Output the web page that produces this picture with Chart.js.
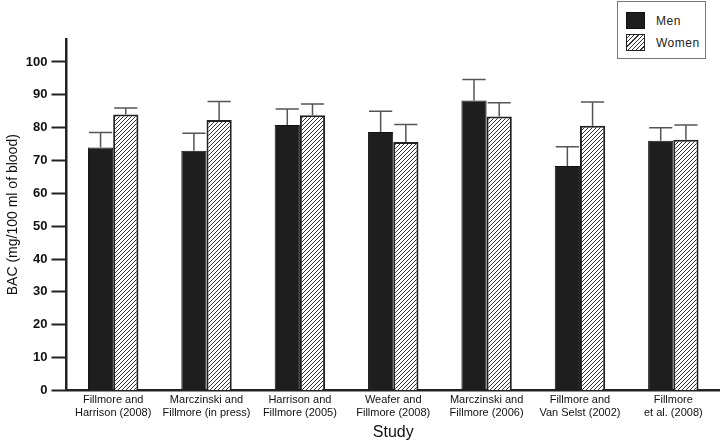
<!DOCTYPE html>
<html>
<head>
<meta charset="utf-8">
<script src="https://cdn.jsdelivr.net/npm/chart.js@4"></script>
<style>
  body { margin: 0; background: #fff; font-family: "Liberation Sans", Arial, sans-serif; overflow: hidden; }
  #wrap { position: relative; width: 720px; height: 440px; overflow: hidden; }
  #legend {
    position: absolute; left: 617px; top: 1px; width: 87px; height: 56px;
    border: 1px solid #777; background: #fff; font-size: 12px; color: #222; letter-spacing: 0.5px;
  }
  .item { position: absolute; left: 8px; display: flex; align-items: center; }
  .item span.sw { display: inline-block; width: 19px; height: 17px; box-sizing: border-box; margin-right: 11px; }
  .men { background: #1e1e1e; border: 1px solid #111; }
  .women { border: 1px solid #222; background: repeating-linear-gradient(-45deg, #fff 0 2px, #333 2px 3px); }
</style>
</head>
<body>
<div id="wrap">
  <canvas id="chart" width="720" height="440"></canvas>
  <div id="legend">
    <div class="item" style="top:10px"><span class="sw men"></span>Men</div>
    <div class="item" style="top:32px"><span class="sw women"></span>Women</div>
  </div>
</div>
<script>
// Study labels (two lines each)
const studies = [
    ['Fillmore and', 'Harrison (2008)'],
    ['Marczinski and', 'Fillmore (in press)'],
    ['Harrison and', 'Fillmore (2005)'],
    ['Weafer and', 'Fillmore (2008)'],
    ['Marczinski and', 'Fillmore (2006)'],
    ['Fillmore and', 'Van Selst (2002)'],
    ['Fillmore', 'et al. (2008)']
];

// Mean BAC values
const menBAC = [74, 73, 80.8, 78.7, 88.3, 68.3, 76];
const womenBAC = [84, 82.3, 83.8, 75.6, 83.4, 80.6, 76.3];

// Top of the error bars (mean + SE)
const menTop = [78.5, 78.3, 85.7, 85, 94.7, 74.2, 80];
const womenTop = [86, 88, 87.2, 81, 87.6, 87.8, 80.8];

const yTicks = [0, 10, 20, 30, 40, 50, 60, 70, 80, 90, 100];

function makeHatch() {
    const c = document.createElement('canvas');
    c.width = 4; c.height = 4;
    const g = c.getContext('2d');
    g.fillStyle = '#fff';
    g.fillRect(0, 0, 4, 4);
    g.strokeStyle = '#333';
    g.lineWidth = 1;
    g.beginPath();
    g.moveTo(-1, 5); g.lineTo(5, -1);
    g.moveTo(-1, 1); g.lineTo(1, -1);
    g.moveTo(3, 5); g.lineTo(5, 3);
    g.stroke();
    return g.createPattern(c, 'repeat');
}

const errorBars = {
    id: 'errorBars',
    afterDatasetsDraw(chart) {
        const ctx = chart.ctx;
        const y = chart.scales.y;
        const tops = [menTop, womenTop];
        ctx.save();
        ctx.strokeStyle = '#555';
        ctx.lineWidth = 1.5;
        chart.data.datasets.forEach((ds, di) => {
            const meta = chart.getDatasetMeta(di);
            meta.data.forEach((bar, i) => {
                const yt = y.getPixelForValue(tops[di][i]);
                const half = bar.width / 2 - 1;
                ctx.beginPath();
                ctx.moveTo(bar.x, bar.y);
                ctx.lineTo(bar.x, yt);
                ctx.moveTo(bar.x - half, yt);
                ctx.lineTo(bar.x + half, yt);
                ctx.stroke();
            });
        });
        ctx.restore();
    }
};

new Chart(document.getElementById('chart'), {
    type: 'bar',
    data: {
        labels: studies,
        datasets: [{
            label: 'Men',
            data: menBAC,
            backgroundColor: '#1e1e1e',
            borderColor: '#111',
            borderWidth: 1
        }, {
            label: 'Women',
            data: womenBAC,
            backgroundColor: makeHatch(),
            borderColor: '#222',
            borderWidth: 2
        }]
    },
    options: {
        responsive: false,
        animation: false,
        layout: { padding: { top: 39, right: -12, bottom: -2, left: 5 } },
        categoryPercentage: 0.54,
        barPercentage: 1,
        plugins: {
            legend: { display: false },
            tooltip: { enabled: false }
        },
        scales: {
            x: {
                grid: { display: false, drawTicks: false },
                border: { display: true, color: '#222', width: 2.5 },
                ticks: {
                    color: '#111',
                    font: { family: 'Liberation Sans', size: 11 },
                    padding: 3,
                    maxRotation: 0,
                    autoSkip: false
                },
                title: {
                    display: true,
                    text: 'Study',
                    color: '#111',
                    font: { family: 'Liberation Sans', size: 16 },
                    padding: { top: 0, bottom: 0 }
                }
            },
            y: {
                min: 0,
                max: 107,
                grid: {
                    display: true,
                    drawOnChartArea: false,
                    drawTicks: true,
                    tickLength: 15,
                    tickWidth: 2,
                    tickColor: '#222'
                },
                border: { display: true, color: '#222', width: 2.5 },
                afterBuildTicks: s => { s.ticks = yTicks.map(v => ({ value: v })); },
                ticks: {
                    color: '#111',
                    font: { family: 'Liberation Sans', size: 13, weight: 'bold' },
                    padding: 4
                },
                title: {
                    display: true,
                    text: 'BAC (mg/100 ml of blood)',
                    color: '#111',
                    font: { family: 'Liberation Sans', size: 14 },
                    padding: { top: 0, bottom: 0 }
                }
            }
        }
    },
    plugins: [errorBars]
});
</script>
</body>
</html>
